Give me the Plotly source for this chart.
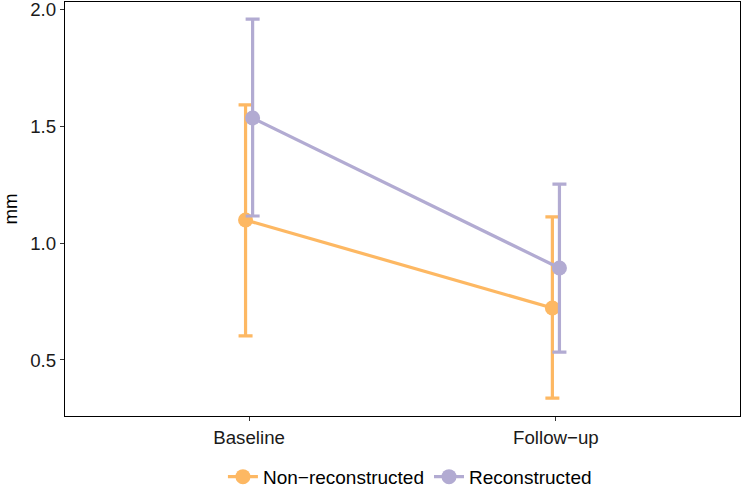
import plotly.graph_objects as go

timepoints = ["Baseline", "Follow\u2212up"]
groups = ["Non\u2212reconstructed", "Reconstructed"]
colors = ["#FDB863", "#B2ABD2"]

non_mean = [1.10, 0.723]
non_upper = [1.593, 1.113]
non_lower = [0.603, 0.337]

rec_mean = [1.537, 0.894]
rec_upper = [1.961, 1.254]
rec_lower = [1.117, 0.534]

means = [non_mean, rec_mean]
uppers = [non_upper, rec_upper]
lowers = [non_lower, rec_lower]
dodge = [-0.0115, 0.0115]

fig = go.Figure()
for g, name in enumerate(groups):
    xs = [i + dodge[g] for i in range(len(timepoints))]
    fig.add_trace(go.Scatter(
        x=xs, y=means[g], name=name, mode="lines+markers",
        line=dict(color=colors[g], width=3.2),
        marker=dict(color=colors[g], size=15),
        error_y=dict(type="data", symmetric=False,
                     array=[u - m for u, m in zip(uppers[g], means[g])],
                     arrayminus=[m - l for m, l in zip(means[g], lowers[g])],
                     color=colors[g], thickness=3.2, width=7),
    ))

fs = 18.7
fig.update_layout(
    width=747, height=492,
    margin=dict(l=65, r=7, t=2, b=76, autoexpand=False),
    plot_bgcolor="white", paper_bgcolor="white",
    font=dict(family="Liberation Sans, Arial, sans-serif", size=fs, color="black"),
    showlegend=True,
    legend=dict(orientation="h", x=0.511, xanchor="center", y=-0.101, yanchor="top",
                font=dict(size=19), itemwidth=30),
)
fig.update_xaxes(
    tickmode="array", tickvals=list(range(len(timepoints))), ticktext=timepoints,
    range=[-0.6, 1.6], showgrid=False, zeroline=False, automargin=False,
    showline=True, linecolor="black", linewidth=1.3, mirror=True,
    ticks="outside", ticklen=4, tickcolor="#333333", tickfont=dict(size=fs, color="#1a1a1a"),
    ticklabeloverflow="allow",
)
fig.update_yaxes(
    title=dict(text="mm", font=dict(size=fs), standoff=8),
    range=[0.26, 2.034], tickvals=[0.5, 1.0, 1.5, 2.0], ticktext=["0.5", "1.0", "1.5", "2.0"],
    showgrid=False, zeroline=False, automargin=False,
    showline=True, linecolor="black", linewidth=1.3, mirror=True,
    ticks="outside", ticklen=4, tickcolor="#333333", tickfont=dict(size=fs, color="#1a1a1a"),
    ticklabeloverflow="allow",
)

fig.write_html("out.html", config={"displayModeBar": False},
               post_script="document.body.style.margin='0';")
